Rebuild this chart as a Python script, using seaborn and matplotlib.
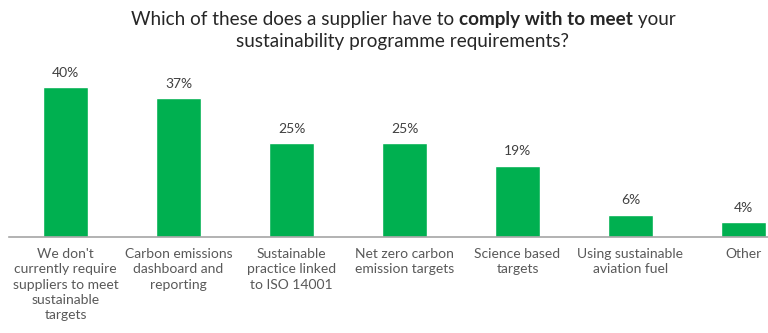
import matplotlib
matplotlib.use("Agg")
import matplotlib.pyplot as plt
import seaborn as sns
import pandas as pd

categories = [
    "We don't\ncurrently require\nsuppliers to meet\nsustainable\ntargets",
    "Carbon emissions\ndashboard and\nreporting",
    "Sustainable\npractice linked\nto ISO 14001",
    "Net zero carbon\nemission targets",
    "Science based\ntargets",
    "Using sustainable\naviation fuel",
    "Other",
]
values = [40, 37, 25, 25, 19, 6, 4]

title_pre = "Which of these does a supplier have to "
title_bold = "comply with to meet"
title_post = " your"
title_line2 = "sustainability programme requirements?"

df = pd.DataFrame({"category": categories, "value": values})

sns.set_theme(style="white")
plt.rcParams["font.family"] = ["Lato", "DejaVu Sans"]

fig = plt.figure(figsize=(7.68, 3.33), dpi=100)
# axes: left edge x=9px, right edge x=768px, baseline y=237px, top y=60px
W, H = 768, 333
ax = fig.add_axes([9 / W, (H - 237) / H, (768 - 9) / W, (237 - 60) / H])

sns.barplot(data=df, x="category", y="value", color="#00B050",
            width=0.4, saturation=1, ax=ax)

ax.set_xlim(-0.5, 6.217)
ax.set_ylim(0, (237 - 60) / 3.75)

for s in ["top", "right", "left"]:
    ax.spines[s].set_visible(False)
ax.spines["bottom"].set_color("#A6A6A6")
ax.spines["bottom"].set_linewidth(1.2)
ax.set_yticks([])
ax.set_xlabel("")
ax.set_ylabel("")
ax.tick_params(axis="x", length=0, pad=8, labelsize=10, labelcolor="#595959")
for lbl in ax.get_xticklabels():
    lbl.set_multialignment("center")
    lbl.set_linespacing(1.32)

for cont in ax.containers:
    ax.bar_label(cont, labels=[f"{v}%" for v in values], padding=6,
                 fontsize=10, color="#404040")

# two-line title with a bold phrase in the first line
title_font = ["Lato", "DejaVu Sans"]
cx = 403 / W
y1 = 1 - 19 / H
y2 = 1 - 42 / H
fs = 13.6
renderer = fig.canvas.get_renderer()
parts = [(title_pre, "normal"), (title_bold, "bold"), (title_post, "normal")]
tmp = [fig.text(0, 0, t, fontsize=fs, fontweight=w, family=title_font)
       for t, w in parts]
widths = [t.get_window_extent(renderer).width / W for t in tmp]
for t in tmp:
    t.remove()
x = cx - sum(widths) / 2
for (t, w), wd in zip(parts, widths):
    fig.text(x, y1, t, fontsize=fs, fontweight=w, color="#262626",
             family=title_font, ha="left", va="center")
    x += wd
fig.text(cx, y2, title_line2, fontsize=fs, color="#262626",
         family=title_font, ha="center", va="center")

fig.savefig("out.png", dpi=100)
